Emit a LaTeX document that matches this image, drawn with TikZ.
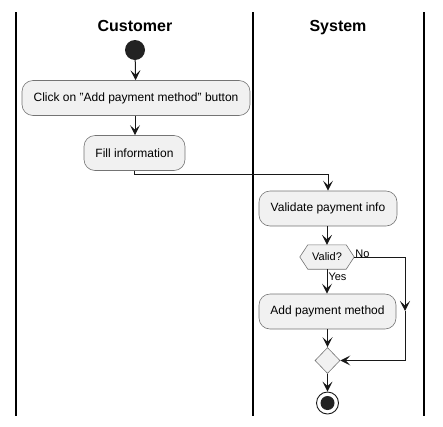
\documentclass[tikz,border=0pt]{standalone}
\usepackage{fontspec}
\setmainfont{Liberation Sans}
\usetikzlibrary{arrows.meta,shapes.geometric,calc}
\definecolor{boxfill}{HTML}{F1F1F1}
\definecolor{lineclr}{HTML}{181818}
\definecolor{dotclr}{HTML}{222222}
\begin{document}
\begin{tikzpicture}[x=1pt,y=-1pt,
  lane/.style={draw=black, line width=1.3pt},
  title/.style={font=\fontsize{16}{18}\selectfont\bfseries, anchor=base, inner sep=0pt},
  act/.style={draw=lineclr!60, fill=boxfill, rounded corners=11pt, line width=0.6pt,
    minimum height=35pt, inner sep=0pt, font=\fontsize{12}{14}\selectfont},
  tip/.style={-{Stealth[length=10pt,width=10pt,inset=4.5pt]}},
  flow/.style={draw=lineclr, line width=1pt, tip},
  lbl/.style={font=\fontsize{11}{13}\selectfont, inner sep=1pt},
]
\useasboundingbox (0,0) rectangle (443,426);
% lanes
\draw[lane] (16,12) -- (16,416);
\draw[lane] (253,12) -- (253,416);
\draw[lane] (424,12) -- (424,416);
\node[title] (tc) at (135,31.5) {Customer};
\node[title] (ts) at (338,31.5) {System};
% nodes
\node[circle, fill=dotclr, minimum size=20pt, inner sep=0pt] (start) at (135,50) {};
\node[act, minimum width=228pt] (a1) at (136,98) {Click on "Add payment method" button};
\node[act, minimum width=101pt] (a2) at (134.5,153) {Fill information};
\node[act, minimum width=138pt] (a3) at (328,208.5) {Validate payment info};
\node[minimum width=54pt, minimum height=24pt, inner sep=0pt] (valid) at (327,257) {};
\draw[draw=lineclr!60, fill=boxfill, line width=0.6pt]
  (valid.west) -- ($(valid.north west)+(8,0)$) -- ($(valid.north east)+(-8,0)$)
  -- (valid.east) -- ($(valid.south east)+(-8,0)$) -- ($(valid.south west)+(8,0)$) -- cycle;
\node[font=\fontsize{11}{13}\selectfont] (validtxt) at (valid) {Valid?};
\node[act, minimum width=137pt] (a4) at (327.5,311.5) {Add payment method};
\node[diamond, draw=lineclr!60, fill=boxfill, line width=0.6pt, minimum width=25pt,
  minimum height=26pt, inner sep=0pt] (merge) at (327.5,360.5) {};
\node[circle, draw=lineclr, line width=0.9pt, minimum size=22pt, inner sep=0pt] (stop) at (327.5,403) {};
\node[circle, fill=dotclr, minimum size=14pt, inner sep=0pt] (stopin) at (stop) {};
% connectors
\draw[flow] (start) -- (a1);
\draw[flow] (a1.south -| start) -- (a2.north -| start);
\coordinate (bend1) at ($(a2.south)+(0,4)$);
\draw[flow] (a2.south) -- (bend1) -- (bend1 -| a3.north) -- (a3.north);
\draw[flow] (a3.south -| valid) -- (valid.north);
\draw[flow] (valid.south) -- node[lbl, anchor=west, pos=0.3] (yes) {Yes} (a4.north -| valid);
\draw[flow] (a4.south -| merge) -- (merge.north);
\draw[flow] (merge.south) -- (stop.north);
\coordinate (nr) at (405,257);
\coordinate (nmid) at (405,311);
\coordinate (nb) at (405,360.5);
\draw[flow] (valid.east) -- (nr) -- (nmid);
\draw[flow] (nmid) -- (nb) -- (merge.east);
\node[lbl, anchor=south west] (no) at ($(valid.east)+(0,2)$) {No};
\end{tikzpicture}
\end{document}
